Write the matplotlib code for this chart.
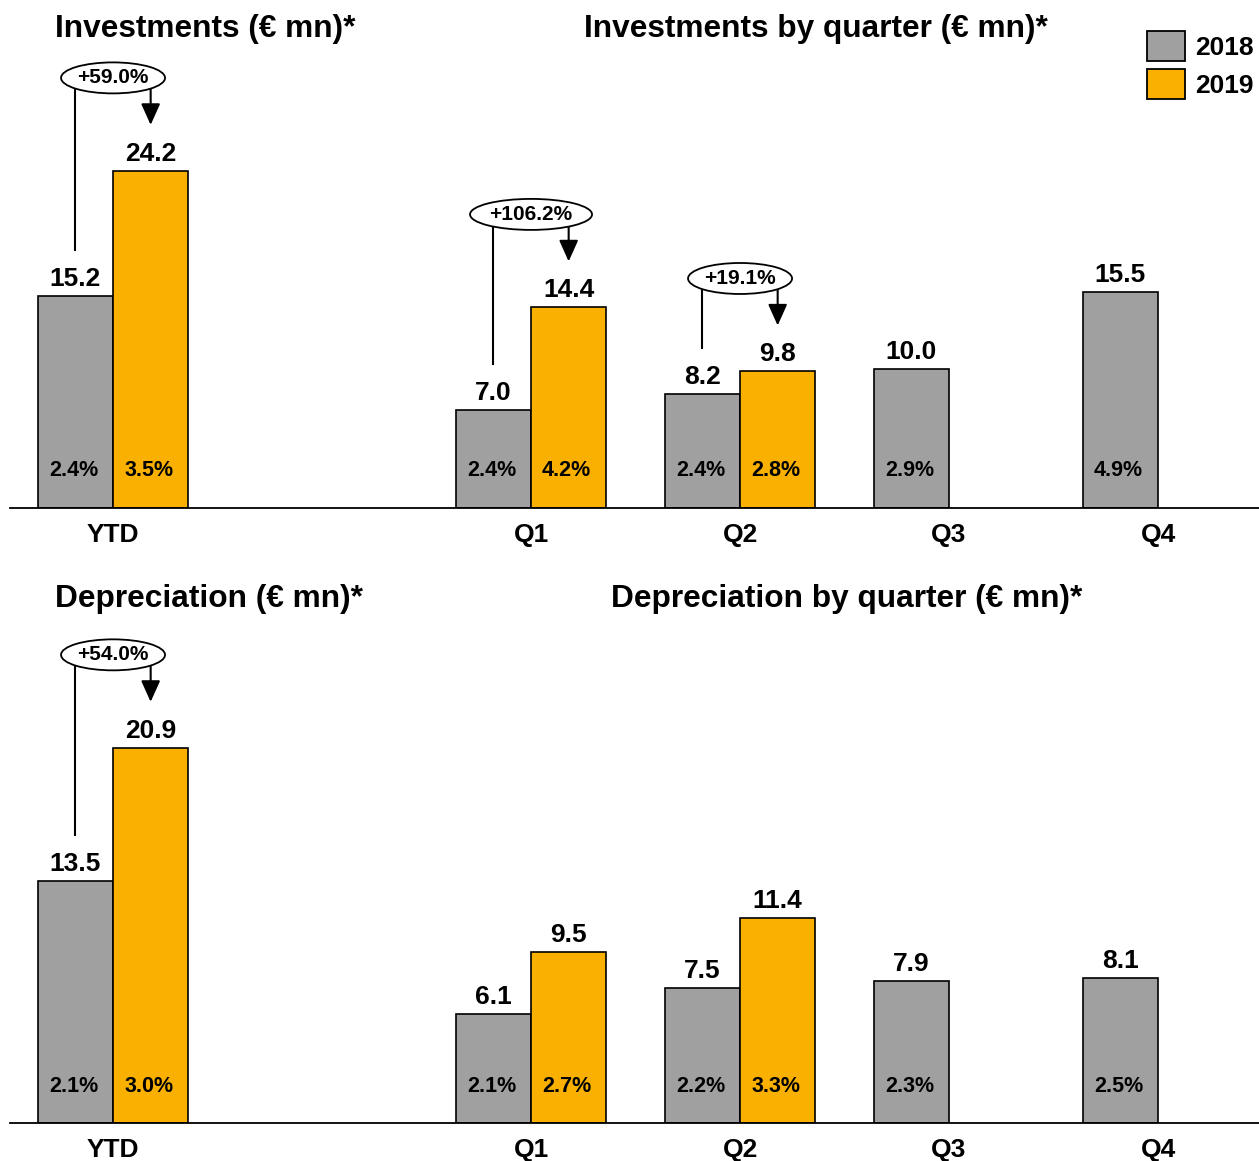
import matplotlib
matplotlib.use('Agg')
import matplotlib.pyplot as plt
from matplotlib.patches import Ellipse, Patch
from matplotlib.transforms import offset_copy

plt.rcParams['font.family'] = ['Liberation Sans', 'DejaVu Sans']
plt.rcParams['font.weight'] = 'bold'

# data
categories = ['YTD', 'Q1', 'Q2', 'Q3', 'Q4']
years = ['2018', '2019']

inv_2018 = [15.2, 7.0, 8.2, 10.0, 15.5]
inv_2019 = [24.2, 14.4, 9.8, None, None]
inv_pct_2018 = ['2.4%', '2.4%', '2.4%', '2.9%', '4.9%']
inv_pct_2019 = ['3.5%', '4.2%', '2.8%', None, None]
inv_growth = ['+59.0%', '+106.2%', '+19.1%', None, None]

dep_2018 = [13.5, 6.1, 7.5, 7.9, 8.1]
dep_2019 = [20.9, 9.5, 11.4, None, None]
dep_pct_2018 = ['2.1%', '2.1%', '2.2%', '2.3%', '2.5%']
dep_pct_2019 = ['3.0%', '2.7%', '3.3%', None, None]
dep_growth = ['+54.0%', None, None, None, None]

GREY = '#A0A0A0'
ORANGE = '#F9B000'
xpos = [0, 2, 3, 4, 5]   # gap between YTD and the quarters
w = 0.36

W, H, DPI = 1259, 1161, 100
fig = plt.figure(figsize=(W / DPI, H / DPI), dpi=DPI)


def dots(ax, dy=0, dx=0):
    return offset_copy(ax.transData, fig=fig, x=dx, y=dy, units='dots')


def draw_panel(ax, ymax, v18, v19, p18, p19, growth):
    ax.set_xlim(-0.493, 5.483)
    ax.set_ylim(0, ymax)
    for s in ['top', 'left', 'right']:
        ax.spines[s].set_visible(False)
    ax.spines['bottom'].set_linewidth(1.3)
    ax.set_xticks([])
    ax.set_yticks([])
    ax.patch.set_alpha(0)

    sx = ax.transData.transform((1, 0))[0] - ax.transData.transform((0, 0))[0]
    sy = ax.transData.transform((0, 1))[1] - ax.transData.transform((0, 0))[1]

    for i, c in enumerate(xpos):
        ax.bar(c - w / 2, v18[i], w, color=GREY, edgecolor='black', lw=1.2, zorder=2)
        ax.text(c - w / 2, v18[i], f'{v18[i]:.1f}', transform=dots(ax, 10),
                ha='center', va='baseline', fontsize=19)
        ax.text(c - w / 2, 0, p18[i], transform=dots(ax, 37, -2),
                ha='center', va='center', fontsize=15.5)
        if v19[i] is not None:
            ax.bar(c + w / 2, v19[i], w, color=ORANGE, edgecolor='black', lw=1.2, zorder=2)
            ax.text(c + w / 2, v19[i], f'{v19[i]:.1f}', transform=dots(ax, 10),
                    ha='center', va='baseline', fontsize=19)
            ax.text(c + w / 2, 0, p19[i], transform=dots(ax, 37, -2),
                    ha='center', va='center', fontsize=15.5)
        ax.text(c, 0, categories[i], transform=dots(ax, -27),
                ha='center', va='center', fontsize=19, clip_on=False)

        if growth[i] is not None:
            peak = max(v18[i], v19[i])
            ell_w = (18 * len(growth[i]) - 4) / sx
            ell_h = 31 / sy
            ax.add_patch(Ellipse((c, peak), ell_w, ell_h, transform=dots(ax, 93),
                                 facecolor='white', edgecolor='black', lw=1.3,
                                 zorder=5, clip_on=False))
            ax.text(c, peak, growth[i], transform=dots(ax, 93), ha='center',
                    va='center', fontsize=15, zorder=6, clip_on=False)
            # bracket line from the 2018 bar and arrow down to the 2019 bar
            x0 = c - w / 2
            y0 = (peak * sy + 93 - (v18[i] * sy + 46)) / sy
            ax.plot([x0, x0], [v18[i], v18[i] + y0], color='black', lw=1.5,
                    transform=dots(ax, 46), zorder=4, clip_on=False)
            ax.annotate('', xy=(c + w / 2, v19[i]), xycoords=dots(ax, 46),
                        xytext=(c + w / 2, peak), textcoords=dots(ax, 93),
                        arrowprops=dict(arrowstyle='-|>,head_length=1.0,head_width=0.45',
                                        mutation_scale=13, color='black', lw=1.5,
                                        shrinkA=0, shrinkB=0),
                        zorder=4, annotation_clip=False)


ax_top = fig.add_axes([10 / W, (H - 508) / H, 1249 / W, 508 / H])
draw_panel(ax_top, 508 / 13.93, inv_2018, inv_2019, inv_pct_2018, inv_pct_2019, inv_growth)

ax_bot = fig.add_axes([10 / W, (H - 1123) / H, 1249 / W, 503 / H])
draw_panel(ax_bot, 503 / 17.95, dep_2018, dep_2019, dep_pct_2018, dep_pct_2019, dep_growth)

fig.text(55 / W, 1 - 29 / H, 'Investments (€ mn)*', fontsize=22.8, va='center', ha='left')
fig.text(816 / W, 1 - 29 / H, 'Investments by quarter (€ mn)*', fontsize=22.8, va='center', ha='center')
fig.text(55 / W, 1 - 599 / H, 'Depreciation (€ mn)*', fontsize=22.8, va='center', ha='left')
fig.text(847 / W, 1 - 599 / H, 'Depreciation by quarter (€ mn)*', fontsize=22.8, va='center', ha='center')

handles = [Patch(facecolor=GREY, edgecolor='black', lw=1.3),
           Patch(facecolor=ORANGE, edgecolor='black', lw=1.3)]
fig.legend(handles, years, loc='upper right', bbox_to_anchor=(1.0, 1 - 26 / H),
           frameon=False, fontsize=19, handlelength=1.44, handleheight=1.36,
           handletextpad=0.4, labelspacing=0.3, borderpad=0, borderaxespad=0.2)

fig.savefig('out.png', dpi=DPI)
